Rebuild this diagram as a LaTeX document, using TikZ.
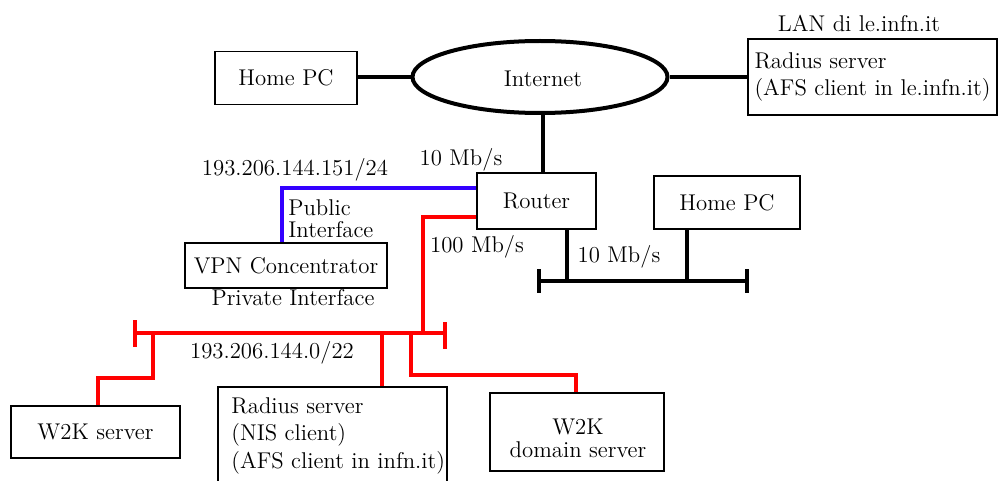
\documentclass[tikz,border=0pt]{standalone}
\usetikzlibrary{shapes.geometric,calc}
\definecolor{netred}{RGB}{255,0,0}
\definecolor{netblue}{RGB}{51,0,255}
\tikzset{
  box/.style={draw=black, line width=0.7pt, fill=white, inner sep=0pt},
  txt/.style={inner sep=0pt},
  blk/.style={draw=black, line width=2pt},
  redl/.style={draw=netred, line width=2pt},
  bluel/.style={draw=netblue, line width=2pt},
}
\begin{document}
\begin{tikzpicture}[x=0.5pt,y=-0.5pt,font=\fontsize{11.4}{13.75}\selectfont]
\clip (0,0) rectangle (1002,481);
\useasboundingbox (0,0) rectangle (1002,481);

% top nodes
\node[box, minimum width=71pt, minimum height=26.5pt] (homepc1) at (286,78) {Home PC};
\node[draw=black, line width=2pt, ellipse, minimum width=127.5pt, minimum height=36pt, inner sep=0pt] (internet) at (540,77) {};
\node[txt] (internettxt) at (543,79) {Internet};
\node[box, minimum width=124.5pt, minimum height=38pt, align=left] (radius1) at (872.5,77) {Radius server\\(AFS client in le.infn.it)};
\node[txt] (lan) at (859,23) {LAN di le.infn.it};

% middle nodes
\node[box, minimum width=59.5pt, minimum height=28pt] (router) at (536.5,201) {Router};
\node[box, minimum width=73pt, minimum height=26.5pt] (homepc2) at (727,202.5) {Home PC};
\node[box, minimum width=101pt, minimum height=22.5pt] (vpn) at (286,265.5) {VPN Concentrator};

% bottom nodes
\node[box, minimum width=84.5pt, minimum height=26pt] (w2k) at (95.5,432) {W2K server};
\node[box, minimum width=114.5pt, minimum height=56.5pt] (radius2) at (332.5,443.5) {};
\node[txt, anchor=west, align=left] (radius2txt) at (231,435.5) {Radius server\\(NIS client)\\(AFS client in infn.it)};
\node[box, minimum width=87pt, minimum height=39pt] (w2kdom) at (577,432) {};
\node[txt, align=center, font=\fontsize{11.4}{11.5}\selectfont] (w2kdomtxt) at (578,438.5) {W2K\\ domain server};

% labels
\node[txt] (l10a) at (461,160) {10 Mb/s};
\node[txt] (lpub) at (295,170) {193.206.144.151/24};
\node[txt, anchor=west, align=left, font=\fontsize{11.4}{11}\selectfont] (lpubif) at (288,219) {Public\\Interface};
\node[txt] (lpriv) at (293,298) {Private Interface};
\node[txt] (l100) at (477,247) {100 Mb/s};
\node[txt] (l10b) at (619,257) {10 Mb/s};
\node[txt] (lnet) at (272,353) {193.206.144.0/22};

% bus coordinates
\coordinate (busL) at (135,333);
\coordinate (busR) at (445,333);
\coordinate (t1) at (153,333);
\coordinate (t2) at (382,333);
\coordinate (t3) at (411,333);
\coordinate (tr) at (423,333);
\coordinate (bus2L) at (539,281);
\coordinate (bus2R) at (747,281);
\coordinate (t4) at (567,281);
\coordinate (t5) at (687,281);

% black connectors
\draw[blk] (internet.west) -- (internet.west -| homepc1.east);
\draw[blk] (internet.east) -- (internet.east -| radius1.west);
\draw[blk] (internet.south -| 543,0) -- (router.north -| 543,0);
\draw[blk] (bus2L) -- (bus2R);
\draw[blk] ($(bus2L)+(0,-12)$) -- ($(bus2L)+(0,12)$);
\draw[blk] ($(bus2R)+(0,-12)$) -- ($(bus2R)+(0,12)$);
\draw[blk] (t4 |- router.south) -- (t4);
\draw[blk] (t5 |- homepc2.south) -- (t5);

% blue connector
\draw[bluel] ($(router.west)+(0,-13)$) -| ($(vpn.north)+(-4,0)$);

% red connectors
\draw[redl] ($(router.west)+(0,16)$) -| (tr);
\draw[redl] ($(vpn.south)+(-3,0)$) -- ($(vpn.south)+(-3,0)$ |- busL);
\draw[redl] (busL) -- (busR);
\draw[redl] ($(busL)+(0,-13)$) -- ($(busL)+(0,14)$);
\draw[redl] ($(busR)+(0,-11)$) -- ($(busR)+(0,16)$);
\draw[redl] (t1) -- ($(t1)+(0,45)$) -| ($(w2k.north)+(2.5,0)$);
\draw[redl] (t2) -- (t2 |- radius2.north);
\draw[redl] (t3) -- ($(t3)+(0,42)$) -| ($(w2kdom.north)+(-1,0)$);
\end{tikzpicture}
\end{document}
